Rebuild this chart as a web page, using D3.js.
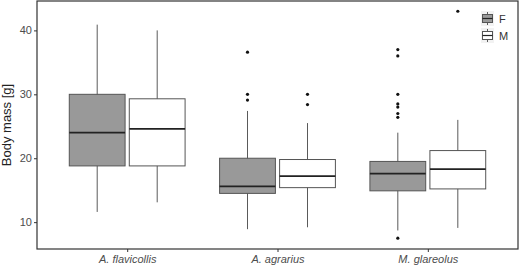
<!DOCTYPE html>
<html>
<head>
<meta charset="utf-8">
<script src="https://cdn.jsdelivr.net/npm/d3@7"></script>
<style>
  html, body { margin: 0; padding: 0; background: #fff; }
  svg { display: block; font-family: "Liberation Sans", Arial, sans-serif; }
</style>
</head>
<body>
<div id="chart"></div>
<script>
const species = ['A. flavicollis', 'A. agrarius', 'M. glareolus'];
const sexes = ['F', 'M'];
const yTicks = [10, 20, 30, 40];

// box stats, one entry per species, [F, M]
const whiskerLow  = [[11.6, 13.1], [8.9, 9.2], [8.7, 9.1]];
const q1          = [[18.8, 18.8], [14.5, 15.4], [14.9, 15.2]];
const median      = [[24.0, 24.6], [15.6, 17.2], [17.6, 18.3]];
const q3          = [[30.0, 29.3], [20.0, 19.8], [19.5, 21.2]];
const whiskerHigh = [[40.9, 40.0], [27.4, 25.5], [24.0, 26.0]];
const outliers    = [
  [[], []],
  [[36.6, 30.0, 29.1], [30.0, 28.4]],
  [[37.0, 36.0, 30.0, 28.5, 28.0, 27.0, 26.4, 7.5], [43.0]]
];

const fills = { F: '#999999', M: '#ffffff' };

const width = 520, height = 267;
const panel = { left: 37, right: 518, top: 1, bottom: 249 };

const svg = d3.select('#chart').append('svg')
  .attr('width', width).attr('height', height);

const x = d3.scalePoint().domain(species).range([panel.left, panel.right]).padding(0.6);
const dodge = d3.scaleBand().domain(sexes).range([-60, 60]).paddingInner(0.07).paddingOuter(0.035);
const y = d3.scaleLinear().domain([5.8, 44.6]).range([panel.bottom, panel.top]);

const rows = [];
species.forEach((sp, i) => {
  sexes.forEach((s, j) => {
    rows.push({
      sp, s,
      lo: whiskerLow[i][j], q1: q1[i][j], med: median[i][j],
      q3: q3[i][j], hi: whiskerHigh[i][j], out: outliers[i][j]
    });
  });
});

const g = svg.append('g');
const bw = dodge.bandwidth();
const cx = (d) => x(d.sp) + dodge(d.s) + bw / 2;

// whiskers
g.selectAll('line.wh').data(rows).join('line')
  .attr('class', 'wh')
  .attr('x1', cx).attr('x2', cx)
  .attr('y1', (d) => y(d.lo)).attr('y2', (d) => y(d.hi))
  .attr('stroke', '#5a5a5a').attr('stroke-width', 1);

// boxes
g.selectAll('rect.box').data(rows).join('rect')
  .attr('class', 'box')
  .attr('x', (d) => x(d.sp) + dodge(d.s))
  .attr('width', bw)
  .attr('y', (d) => y(d.q3))
  .attr('height', (d) => y(d.q1) - y(d.q3))
  .attr('fill', (d) => fills[d.s])
  .attr('stroke', '#555').attr('stroke-width', 1);

// medians
g.selectAll('line.med').data(rows).join('line')
  .attr('class', 'med')
  .attr('x1', (d) => x(d.sp) + dodge(d.s)).attr('x2', (d) => x(d.sp) + dodge(d.s) + bw)
  .attr('y1', (d) => y(d.med)).attr('y2', (d) => y(d.med))
  .attr('stroke', '#222').attr('stroke-width', 1.6);

// outliers
g.selectAll('g.out').data(rows).join('g')
  .attr('class', 'out')
  .selectAll('circle').data((d) => d.out.map((v) => ({ cx: cx(d), v }))).join('circle')
  .attr('cx', (d) => d.cx).attr('cy', (d) => y(d.v))
  .attr('r', 1.6).attr('fill', '#111');

// panel border
svg.append('rect')
  .attr('x', panel.left).attr('y', panel.top)
  .attr('width', panel.right - panel.left).attr('height', panel.bottom - panel.top)
  .attr('fill', 'none').attr('stroke', '#333').attr('stroke-width', 1.2);

// axes
const yAxis = svg.append('g').attr('transform', `translate(${panel.left},0)`)
  .call(d3.axisLeft(y).tickValues(yTicks).tickSize(3).tickPadding(2));
yAxis.select('.domain').remove();
yAxis.selectAll('line').attr('stroke', '#333');
yAxis.selectAll('text').attr('fill', '#4d4d4d').attr('font-size', 11)
  .attr('font-family', '"Liberation Sans", Arial, sans-serif');

const xAxis = svg.append('g').attr('transform', `translate(0,${panel.bottom})`)
  .call(d3.axisBottom(x).tickSize(3).tickPadding(3));
xAxis.select('.domain').remove();
xAxis.selectAll('line').attr('stroke', '#333');
xAxis.selectAll('text').attr('fill', '#4d4d4d').attr('font-size', 11)
  .attr('font-style', 'italic')
  .attr('font-family', '"Liberation Sans", Arial, sans-serif');

svg.append('text')
  .attr('transform', `translate(11,${(panel.top + panel.bottom) / 2}) rotate(-90)`)
  .attr('text-anchor', 'middle')
  .attr('font-size', 13).attr('fill', '#222')
  .text('Body mass [g]');

// legend
const legend = svg.append('g').attr('transform', 'translate(481,11)');
sexes.forEach((s, i) => {
  const k = legend.append('g').attr('transform', `translate(0,${i * 17})`);
  k.append('rect').attr('x', 0).attr('y', 0).attr('width', 13).attr('height', 15).attr('fill', '#f2f2f2');
  k.append('line').attr('x1', 6.5).attr('x2', 6.5).attr('y1', 1).attr('y2', 14)
    .attr('stroke', '#5a5a5a');
  k.append('rect').attr('x', 1.5).attr('y', 3.5).attr('width', 10).attr('height', 8)
    .attr('fill', fills[s]).attr('stroke', '#555');
  k.append('line').attr('x1', 1.5).attr('x2', 11.5).attr('y1', 7.5).attr('y2', 7.5)
    .attr('stroke', '#222').attr('stroke-width', 1.2);
  k.append('text').attr('x', 18).attr('y', 11.5)
    .attr('font-size', 11).attr('fill', '#333').text(s);
});
</script>
</body>
</html>
